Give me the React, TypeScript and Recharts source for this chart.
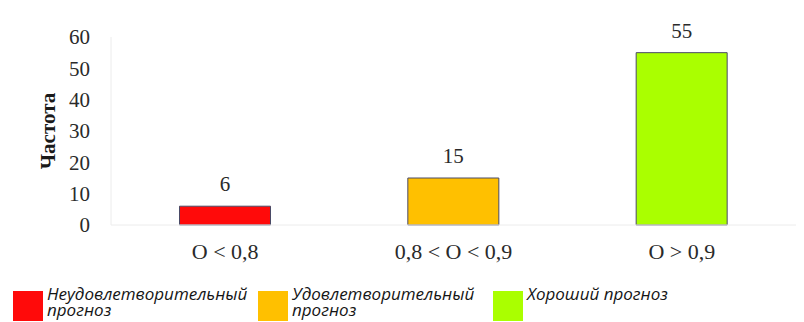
import { BarChart, Bar, XAxis, YAxis, Cell, LabelList } from "recharts";

// grouping by score range and how many cases fell in each
const categories = ["O < 0,8", "0,8 < O < 0,9", "O > 0,9"];
const counts = [6, 15, 55];
const barColors = ["#ff0a0a", "#ffc000", "#aaff00"];
const yTicks = [0, 10, 20, 30, 40, 50, 60];

const legendItems = [
  { color: "#ff0a0a", text: "Неудовлетворительный прогноз", left: 13 },
  { color: "#ffc000", text: "Удовлетворительный прогноз", left: 258 },
  { color: "#aaff00", text: "Хороший прогноз", left: 493 },
];

const data = categories.map((name, i) => ({ name, value: counts[i] }));

const serif = '"Liberation Serif", "Times New Roman", serif';

export default function App() {
  return (
    <div
      style={{
        position: "absolute",
        left: 0,
        top: 0,
        width: 804,
        height: 322,
        background: "#fff",
        overflow: "hidden",
      }}
    >
      <BarChart
        width={804}
        height={270}
        data={data}
        margin={{ top: 37, right: 8, left: 0, bottom: 0 }}
        barCategoryGap="30%"
      >
        <XAxis
          dataKey="name"
          height={45}
          tickLine={false}
          tickSize={0}
          tickMargin={18}
          axisLine={{ stroke: "#ececec" }}
          tick={{ fill: "#2a2a2a", fontSize: 22, fontFamily: serif }}
        />
        <YAxis
          width={111}
          domain={[0, 60]}
          ticks={yTicks}
          tickLine={false}
          tickSize={0}
          tickMargin={21}
          axisLine={{ stroke: "#ececec" }}
          tick={{ fill: "#2a2a2a", fontSize: 21, fontFamily: serif }}
          label={{
            content: ({ viewBox }: any) => {
              const cx = viewBox.x + 48;
              const cy = viewBox.y + viewBox.height / 2;
              return (
                <text
                  x={cx}
                  y={cy}
                  transform={`rotate(-90, ${cx}, ${cy})`}
                  textAnchor="middle"
                  dominantBaseline="central"
                  fontFamily={serif}
                  fontWeight="bold"
                  fontSize={21}
                  fill="#1a1a1a"
                >
                  Частота
                </text>
              );
            },
          }}
        />
        <Bar dataKey="value" stroke="#4a4a66" strokeWidth={1} isAnimationActive={false}>
          {data.map((d, i) => (
            <Cell key={d.name} fill={barColors[i]} />
          ))}
          <LabelList
            dataKey="value"
            position="top"
            offset={15}
            fill="#2a2a2a"
            fontSize={21}
            fontFamily={serif}
          />
        </Bar>
      </BarChart>
      {legendItems.map((item) => (
        <div
          key={item.text}
          style={{
            position: "absolute",
            left: item.left,
            top: 291,
            display: "flex",
            alignItems: "flex-start",
          }}
        >
          <div style={{ width: 30, height: 30, background: item.color, flexShrink: 0 }} />
          <div
            style={{
              marginLeft: 4,
              marginTop: -5,
              width: 200,
              fontFamily: '"Open Sans", sans-serif',
              fontStyle: "italic",
              fontSize: 17,
              lineHeight: "16px",
              color: "#151515",
            }}
          >
            {item.text}
          </div>
        </div>
      ))}
    </div>
  );
}
